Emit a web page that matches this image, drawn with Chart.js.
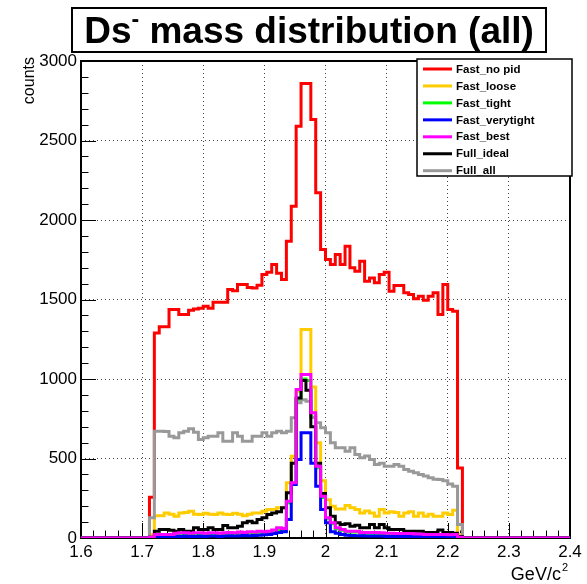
<!DOCTYPE html>
<html><head><meta charset="utf-8">
<script src="https://cdn.jsdelivr.net/npm/chart.js@4.4.0/dist/chart.umd.min.js"></script>
<style>html,body{margin:0;padding:0;background:#fff;}#wrap{width:587px;height:584px;}</style>
</head><body><div id="wrap"><canvas id="c" width="587" height="584"></canvas></div>
<script>
// ---- histogram binning (GeV/c^2) ----
const binLow = 1.6, binHigh = 2.4, binWidth = 0.008;
const firstFilledEdge = 1.712; // lower edge of first listed bin
const titleMain = 'Ds', titleSup = '-', titleRest = ' mass distribution (all)';
const yTitle = 'counts', xTitleMain = 'GeV/c', xTitleSup = '2';
const seriesLabels = ['Fast_no pid','Fast_loose','Fast_tight','Fast_verytight','Fast_best','Full_ideal','Full_all'];
const xTickStep = 0.1, yTickStep = 500, yMax = 3000;

// ---- bin contents, from 1.712 GeV upward, one value per 0.008 GeV bin ----
const fastNoPid = [256,1290,1328,1328,1437,1437,1405,1405,1432,1440,1445,1458,1445,1483,1483,1483,
 1563,1555,1594,1594,1575,1573,1590,1657,1672,1720,1665,1626,1867,2087,2590,2858,2858,2632,2171,1814,
 1751,1720,1783,1720,1835,1700,1678,1741,1615,1636,1605,1657,1672,1552,1588,1588,1542,1531,1504,1521,
 1495,1521,1542,1406,1594,1437,1426,441];
const fastLoose = [22,140,140,158,150,137,158,160,169,150,148,155,150,148,158,150,
 148,155,150,140,150,158,158,169,179,179,190,190,347,514,923,1311,1311,950,599,360,
 240,200,183,183,204,190,179,158,170,158,137,179,158,165,160,137,158,165,137,158,
 137,150,137,137,158,148,175,22];
const fastTight = [3,18,18,19,19,25,28,28,26,28,28,26,28,28,26,28,
 30,28,32,30,34,32,36,34,36,42,54,50,220,340,870,1000,990,760,440,255,
 120,90,58,48,38,38,38,30,30,30,30,28,26,26,24,24,24,24,21,21,
 19,19,19,19,19,17,19,4];
const fastVerytight = [0,8,8,10,8,10,10,12,10,10,12,10,12,12,10,12,
 14,12,14,15,14,16,18,20,22,28,35,40,116,336,494,662,662,470,326,179,
 96,40,30,22,18,16,14,14,12,12,12,12,10,10,10,10,10,10,9,9,
 9,8,8,8,8,8,8,2];
const fastBest = [5,22,22,22,22,30,33,33,30,33,33,30,33,33,30,33,
 35,33,38,35,40,38,43,40,43,50,64,60,231,347,934,1028,1028,787,452,263,
 127,96,64,53,43,43,43,35,35,35,35,33,30,30,28,28,28,28,25,25,
 22,22,22,22,22,20,22,5];
const fullIdeal = [5,43,53,53,48,43,53,43,43,64,53,53,64,53,53,79,
 64,64,74,96,106,96,116,127,148,158,165,190,284,470,880,990,930,700,470,280,
 190,137,96,85,90,74,80,64,64,85,64,85,64,53,53,53,43,43,43,43,
 35,35,35,50,35,35,30,10];
const fullAll = [127,672,672,670,640,630,662,672,687,665,620,630,640,640,662,609,
 609,662,640,609,609,640,640,662,640,662,672,662,672,756,850,870,860,760,725,693,
 662,599,567,567,546,567,525,504,515,494,462,470,452,452,462,452,431,420,410,399,
 390,379,370,368,360,340,326,85];

const seriesValues = [fastNoPid, fastLoose, fastTight, fastVerytight, fastBest, fullIdeal, fullAll];
const seriesColors = ['#ff0000','#ffcc00','#00ff00','#0000ff','#ff00ff','#000000','#999999'];
const drawOrder = [6,5,4,3,0,1,2];

function toSteps(vals){
  const nBins = Math.round((binHigh-binLow)/binWidth);
  const first = Math.round((firstFilledEdge-binLow)/binWidth);
  const pts = [];
  for (let i=0;i<nBins;i++){
    const j = i-first;
    pts.push({x: binLow + i*binWidth, y: (j>=0 && j<vals.length) ? vals[j] : 0});
  }
  pts.push({x: binHigh, y: 0});
  return pts;
}

const FONT = '"Liberation Sans", Arial, Helvetica, sans-serif';

const rootStyle = {
  id: 'rootStyle',
  beforeDatasetsDraw(chart){
    const {ctx, chartArea:a, scales:{x, y}} = chart;
    ctx.save();
    ctx.strokeStyle = '#000'; ctx.lineWidth = 1;
    ctx.beginPath();
    const nx = Math.round((binHigh-binLow)/(xTickStep/5));
    for (let k=0;k<=nx;k++){
      const px = Math.round(x.getPixelForValue(binLow + k*xTickStep/5)) + 0.5;
      const len = (k%5===0) ? 15 : 7.5;
      ctx.moveTo(px, a.bottom); ctx.lineTo(px, a.bottom-len);
    }
    const ny = Math.round(yMax/(yTickStep/5));
    for (let k=0;k<=ny;k++){
      const py = Math.round(y.getPixelForValue(k*yTickStep/5)) + 0.5;
      const len = (k%5===0) ? 15 : 7.5;
      ctx.moveTo(a.left, py); ctx.lineTo(a.left+len, py);
    }
    ctx.stroke();
    ctx.lineWidth = 2;
    ctx.strokeRect(a.left, a.top, a.right-a.left, a.bottom-a.top);
    ctx.restore();
  },
  afterDatasetsDraw(chart){
    const {ctx} = chart;
    ctx.save();
    const L = {x:417, y:59, w:155, h:117};
    ctx.fillStyle = '#fff'; ctx.fillRect(L.x, L.y, L.w, L.h);
    ctx.strokeStyle = '#000'; ctx.lineWidth = 1.5;
    ctx.strokeRect(L.x, L.y, L.w, L.h);
    ctx.font = 'bold 11.5px ' + FONT;
    ctx.textBaseline = 'middle'; ctx.textAlign = 'left';
    chart.data.datasets.forEach((ds, i) => {
      const cy = L.y + 10 + i*16.95;
      ctx.strokeStyle = ds.borderColor; ctx.lineWidth = 3;
      ctx.beginPath(); ctx.moveTo(L.x+6, cy); ctx.lineTo(L.x+35, cy); ctx.stroke();
      ctx.fillStyle = '#000';
      ctx.fillText(ds.label, L.x+39, cy+0.5);
    });
    ctx.restore();
  },
  afterDraw(chart){
    const {ctx} = chart;
    ctx.save();
    const T = {x:72, y:8, w:474, h:44};
    ctx.fillStyle = '#fff'; ctx.fillRect(T.x, T.y, T.w, T.h);
    ctx.strokeStyle = '#000'; ctx.lineWidth = 2; ctx.strokeRect(T.x, T.y, T.w, T.h);
    const big = 'bold 37px ' + FONT, small = 'bold 23px ' + FONT;
    ctx.font = big; const w1 = ctx.measureText(titleMain).width, w3 = ctx.measureText(titleRest).width;
    ctx.font = small; const w2 = ctx.measureText(titleSup).width;
    let tx = T.x + T.w/2 - (w1+w2+w3)/2; const base = T.y + T.h/2 + 13;
    ctx.fillStyle = '#000'; ctx.textBaseline = 'alphabetic'; ctx.textAlign = 'left';
    ctx.font = big; ctx.fillText(titleMain, tx, base); tx += w1;
    ctx.font = small; ctx.fillText(titleSup, tx, base - 16); tx += w2;
    ctx.font = big; ctx.fillText(titleRest, tx, base);
    ctx.font = '16px ' + FONT;
    ctx.save(); ctx.translate(33.5, 57); ctx.rotate(-Math.PI/2);
    ctx.textAlign = 'right'; ctx.fillText(yTitle, 0, 0); ctx.restore();
    ctx.font = '11px ' + FONT; const ws = ctx.measureText(xTitleSup).width;
    ctx.textAlign = 'right';
    ctx.fillText(xTitleSup, 568, 571);
    ctx.font = '18px ' + FONT; ctx.fillText(xTitleMain, 568 - ws - 1, 580);
    ctx.restore();
  }
};

new Chart(document.getElementById('c'), {
  type: 'line',
  data: {
    datasets: seriesLabels.map((lab, i) => ({
      label: lab,
      data: toSteps(seriesValues[i]),
      borderColor: seriesColors[i],
      backgroundColor: seriesColors[i],
      borderWidth: 3,
      stepped: 'before',
      pointRadius: 0,
      fill: false,
      order: drawOrder[i]
    }))
  },
  options: {
    responsive: false, animation: false, devicePixelRatio: 1,
    layout: {padding: {top: 61, right: 17, bottom: 0, left: 0}},
    plugins: {legend: {display: false}, title: {display: false}, tooltip: {enabled: false}},
    scales: {
      x: {
        type: 'linear', min: binLow, max: binHigh,
        afterFit(s){ s.height = 46; },
        grid: {color: '#444', lineWidth: 1, drawTicks: false},
        border: {display: false, dash: [1, 3]},
        ticks: {stepSize: xTickStep, autoSkip: false, maxRotation: 0, padding: 4,
                font: {family: FONT, size: 17}, color: '#000',
                callback: v => String(Math.round(v*10)/10)}
      },
      y: {
        min: 0, max: yMax,
        afterFit(s){ s.width = 81; },
        grid: {color: '#444', lineWidth: 1, drawTicks: false},
        border: {display: false, dash: [1, 3]},
        ticks: {stepSize: yTickStep, padding: 4, font: {family: FONT, size: 17}, color: '#000',
                callback: v => String(v)}
      }
    }
  },
  plugins: [rootStyle]
});
</script></body></html>
